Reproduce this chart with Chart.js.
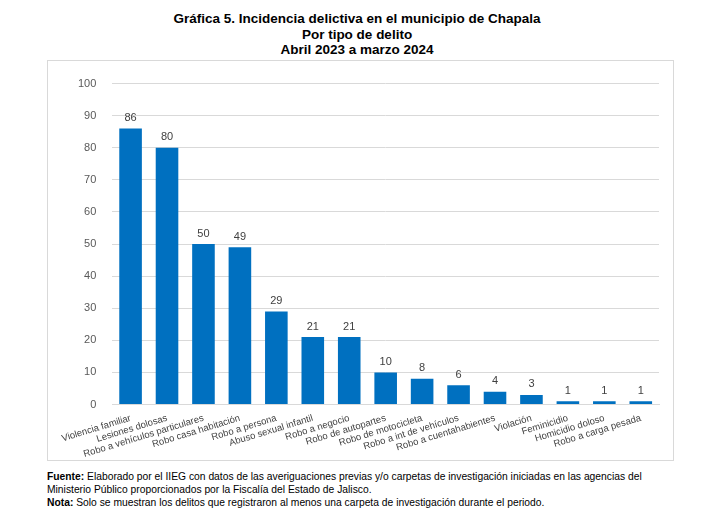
<!DOCTYPE html>
<html><head><meta charset="utf-8">
<script src="https://cdn.jsdelivr.net/npm/chart.js"></script>
<style>
body{margin:0;width:714px;height:519px;background:#fff;font-family:Arial,"Liberation Sans",sans-serif;position:relative}
#title{position:absolute;top:11px;left:0;width:714px;text-align:center;font-weight:bold;font-size:13.5px;line-height:15.5px;color:#000}
#box{position:absolute;left:47px;top:60px;width:625px;height:399px;border:1px solid #d9d9d9}
#foot{position:absolute;left:47px;top:470px;width:630px;font-size:10.3px;line-height:13px;color:#000}
</style></head><body>
<div id="title">Gráfica 5. Incidencia delictiva en el municipio de Chapala<br>Por tipo de delito<br>Abril 2023 a marzo 2024</div>
<div id="box"><canvas id="c" width="625" height="399"></canvas></div>
<div id="foot"><b>Fuente:</b> Elaborado por el IIEG con datos de las averiguaciones previas y/o carpetas de investigación iniciadas en las agencias del Ministerio Público proporcionados por la Fiscalía del Estado de Jalisco.<br><b>Nota:</b> Solo se muestran los delitos que registraron al menos una carpeta de investigación durante el periodo.</div>
<script>
const categories=["Violencia familiar","Lesiones dolosas","Robo a vehículos particulares","Robo casa habitación","Robo a persona","Abuso sexual infantil","Robo a negocio","Robo de autopartes","Robo de motocicleta","Robo a int de vehículos","Robo a cuentahabientes","Violación","Feminicidio","Homicidio doloso","Robo a carga pesada"];
const values=[86,80,50,49,29,21,21,10,8,6,4,3,1,1,1];
const yTicks=[0,10,20,30,40,50,60,70,80,90,100];
const labelsPlugin={id:'vals',afterDatasetsDraw(ch){const ctx=ch.ctx;const m=ch.getDatasetMeta(0);ctx.save();ctx.font='11px Arial, "Liberation Sans"';ctx.fillStyle='#404040';ctx.textAlign='center';ctx.textBaseline='bottom';m.data.forEach((b,i)=>ctx.fillText(values[i],b.x,b.y-5));ctx.restore();}};
new Chart(document.getElementById('c'),{type:'bar',data:{labels:categories,datasets:[{data:values,backgroundColor:'#0070c0',barPercentage:0.62,categoryPercentage:1}]},
options:{responsive:false,animation:false,layout:{padding:{top:3,right:14,left:14,bottom:0}},plugins:{legend:{display:false},tooltip:{enabled:false}},
scales:{y:{min:0,max:100,ticks:{stepSize:10,color:'#595959',font:{size:11,family:'Arial, "Liberation Sans"'},padding:16},grid:{color:'#d9d9d9',drawTicks:false},border:{display:false}},
x:{ticks:{color:'#404040',font:{size:9.5,family:'Arial, "Liberation Sans"'},maxRotation:17,minRotation:17,autoSkip:false,padding:0},grid:{display:false},border:{color:'#d9d9d9'}}}},plugins:[labelsPlugin]});
</script></body></html>
